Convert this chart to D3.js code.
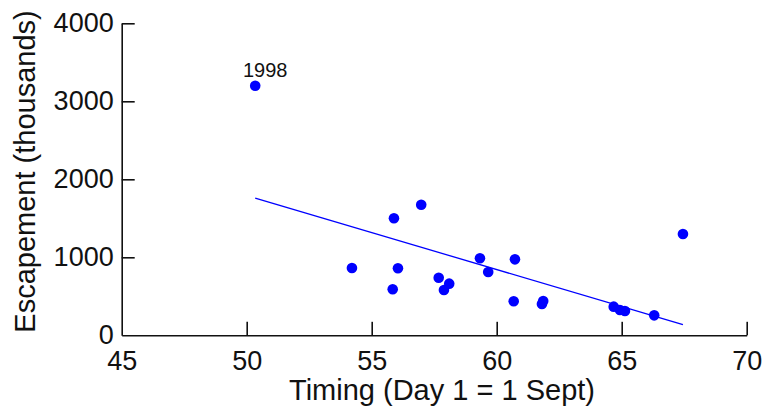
<!DOCTYPE html>
<html>
<head>
<meta charset="utf-8">
<script src="https://cdn.jsdelivr.net/npm/d3@7"></script>
<style>
  html, body { margin: 0; padding: 0; background: #fff; }
  svg { display: block; font-family: "Liberation Sans", Arial, sans-serif; }
</style>
</head>
<body>
<svg id="chart" width="767" height="418"></svg>
<script>
// Run timing (day, Day 1 = 1 Sept) and escapement (thousands of fish)
const timing = [50.34, 55.89, 56.98, 54.21, 56.05, 55.84, 57.68, 57.89, 58.10, 59.33,
                59.66, 60.73, 60.68, 61.81, 61.86, 64.68, 64.93, 65.13, 66.30, 67.45];
const escapement = [3200, 1500, 1674, 863, 859, 590, 738, 581, 662, 987,
                    811, 974, 436, 401, 440, 367, 324, 311, 256, 1299];
// The one labelled year
const labelledIndex = 0;
const labelledText = "1998";

const xTicks = [45, 50, 55, 60, 65, 70];
const yTicks = [0, 1000, 2000, 3000, 4000];
const xTitle = "Timing (Day 1 = 1 Sept)";
const yTitle = "Escapement (thousands)";

const svg = d3.select("#chart");
const x = d3.scaleLinear().domain([45, 70]).range([121.7, 746.7]);
const y = d3.scaleLinear().domain([0, 4000]).range([335.3, 23.3]);

// Axes with inward-pointing ticks
const xAxis = d3.axisBottom(x).tickValues(xTicks).tickFormat(d3.format("d"))
  .tickSizeInner(-13.5).tickSizeOuter(0).tickPadding(16);
const yAxis = d3.axisLeft(y).tickValues(yTicks).tickFormat(d3.format("d"))
  .tickSizeInner(-13).tickSizeOuter(0).tickPadding(8);

const gx = svg.append("g").attr("transform", `translate(0,${y(0)})`).call(xAxis);
const gy = svg.append("g").attr("transform", `translate(${x(45)},0)`).call(yAxis);

[gx, gy].forEach(g => {
  g.selectAll("path.domain").attr("stroke", "#111").attr("stroke-width", 1.6);
  g.selectAll(".tick line").attr("stroke", "#111").attr("stroke-width", 1.6);
  g.selectAll(".tick text")
    .attr("fill", "#111")
    .style("font-size", "27px")
    .style("font-family", "'Liberation Sans', Arial, sans-serif");
});
// skip the duplicate tick lines at the origin
gx.selectAll(".tick").filter(d => d === 45).select("line").remove();
gy.selectAll(".tick").filter(d => d === 0).select("line").remove();

// Least-squares fit of escapement on timing
const n = timing.length;
const mx = d3.mean(timing), my = d3.mean(escapement);
let sxy = 0, sxx = 0;
for (let i = 0; i < n; i++) {
  sxy += (timing[i] - mx) * (escapement[i] - my);
  sxx += (timing[i] - mx) ** 2;
}
const slope = sxy / sxx, intercept = my - slope * mx;
const [x0, x1] = d3.extent(timing);
svg.append("line")
  .attr("x1", x(x0)).attr("y1", y(intercept + slope * x0))
  .attr("x2", x(x1)).attr("y2", y(intercept + slope * x1))
  .attr("stroke", "#0000ff").attr("stroke-width", 1.3);

// Points
svg.append("g").selectAll("circle")
  .data(timing.map((t, i) => [t, escapement[i]]))
  .join("circle")
  .attr("cx", d => x(d[0]))
  .attr("cy", d => y(d[1]))
  .attr("r", 5.3)
  .attr("fill", "#0000ff");

// Year label
svg.append("text")
  .attr("x", x(timing[labelledIndex]) + 10)
  .attr("y", y(escapement[labelledIndex]) - 9)
  .attr("text-anchor", "middle")
  .attr("fill", "#111")
  .style("font-size", "20px")
  .text(labelledText);

// Axis titles
svg.append("text")
  .attr("x", 442).attr("y", 400)
  .attr("text-anchor", "middle")
  .attr("fill", "#111")
  .style("font-size", "29px")
  .text(xTitle);

svg.append("text")
  .attr("transform", "translate(35,171.5) rotate(-90)")
  .attr("text-anchor", "middle")
  .attr("fill", "#111")
  .style("font-size", "29px")
  .text(yTitle);
</script>
</body>
</html>
